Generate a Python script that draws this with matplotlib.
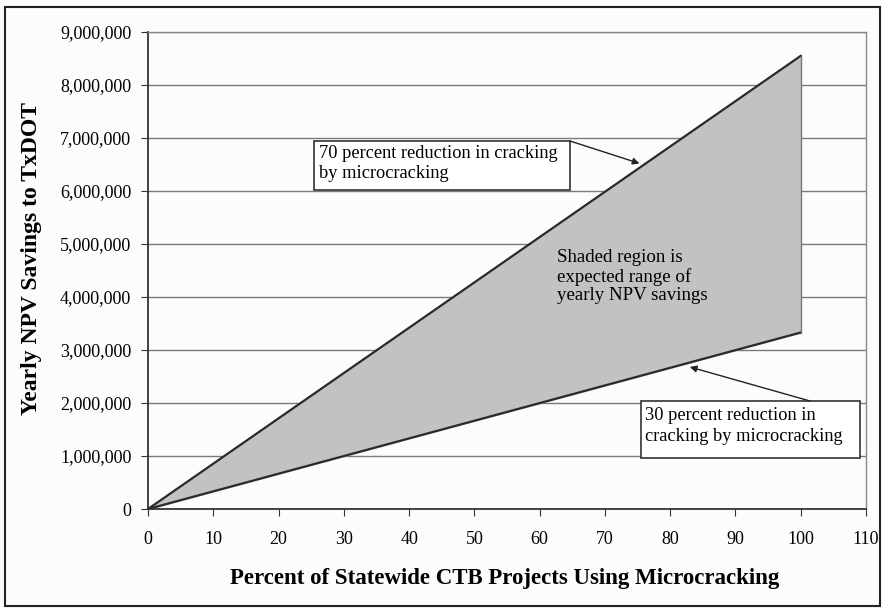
import matplotlib
matplotlib.use("Agg")
import matplotlib.pyplot as plt
from matplotlib.patches import Rectangle
from matplotlib.ticker import FuncFormatter

# data
pct = [0, 100]
upper_70 = [0, 8550000]
lower_30 = [0, 3330000]
xticks = list(range(0, 111, 10))
yticks = list(range(0, 9000001, 1000000))

plt.rcParams['font.family'] = ['Liberation Serif', 'DejaVu Serif']

fig = plt.figure(figsize=(8.82, 6.08), dpi=100)
fig.patch.set_facecolor('#fcfcfc')
fig.add_artist(Rectangle((5/882, 2/608), 875/882, 599/608, transform=fig.transFigure,
                         fill=False, edgecolor='#222222', lw=1.5))

ax = fig.add_axes([148/882, 1-509/608, 718/882, 477/608])
ax.set_facecolor('#fcfcfc')

ax.fill_between(pct, lower_30, upper_70, color='#c0c2c4', zorder=2)
ax.plot(pct, upper_70, color='#2a2a2a', lw=1.6, zorder=3)
ax.plot(pct, lower_30, color='#2a2a2a', lw=1.6, zorder=3)
ax.plot([pct[-1], pct[-1]], [lower_30[-1], upper_70[-1]], color='#777777', lw=1, zorder=3)

ax.set_xlim(0, 110)
ax.set_ylim(0, 9000000)
ax.set_xticks(xticks)
ax.set_yticks(yticks)
ax.yaxis.set_major_formatter(FuncFormatter(lambda v, p: '{:,.0f}'.format(v)))
ax.grid(axis='y', color='#7a7a7a', lw=1, zorder=1)
ax.tick_params(axis='both', labelsize=13, direction='out', length=5, color='#333333')
ax.tick_params(axis='x', pad=11)
ax.tick_params(axis='y', pad=7)
for s in ['left', 'bottom']:
    ax.spines[s].set_color('#333333')
    ax.spines[s].set_linewidth(1.3)
for s in ['right', 'top']:
    ax.spines[s].set_color('#888888')
    ax.spines[s].set_linewidth(1)

ax.set_xlabel('Percent of Statewide CTB Projects Using Microcracking',
              fontsize=16.5, fontweight='bold')
ax.xaxis.set_label_coords(0.497, -0.123)
ax.set_ylabel('Yearly NPV Savings to TxDOT', fontsize=17, fontweight='bold')
ax.yaxis.set_label_coords(-0.148, 0.526)

# annotation boxes (axes fraction)
for (bx0, by0, bw, bh) in [(0.2312, 0.6688, 0.3565, 0.1027),
                           (0.6866, 0.1069, 0.3050, 0.1195)]:
    ax.add_patch(Rectangle((bx0, by0), bw, bh, transform=ax.transAxes,
                           facecolor='white', edgecolor='#333333', lw=1.2,
                           zorder=5, clip_on=False))

ax.text(0.2375, 0.763, '70 percent reduction in cracking\nby microcracking',
        transform=ax.transAxes, fontsize=13.2, va='top', ha='left',
        linespacing=1.25, zorder=6)
ax.text(0.6925, 0.213, '30 percent reduction in\ncracking by microcracking',
        transform=ax.transAxes, fontsize=13.2, va='top', ha='left',
        linespacing=1.25, zorder=6)

arrow = dict(arrowstyle='-|>', color='#222222', lw=1, shrinkA=0, shrinkB=0,
             mutation_scale=10)
ax.annotate('', xy=(75.3, 6520000), xycoords='data',
            xytext=(0.5877, 0.7715), textcoords='axes fraction',
            arrowprops=arrow, zorder=6)
ax.annotate('', xy=(83.0, 2680000), xycoords='data',
            xytext=(0.922, 0.2264), textcoords='axes fraction',
            arrowprops=arrow, zorder=6)

ax.text(62.6, 4900000, 'Shaded region is\nexpected range of\nyearly NPV savings',
        fontsize=13.6, va='top', ha='left', linespacing=1.12, zorder=5)

fig.savefig('out.png', dpi=100, facecolor=fig.get_facecolor())
